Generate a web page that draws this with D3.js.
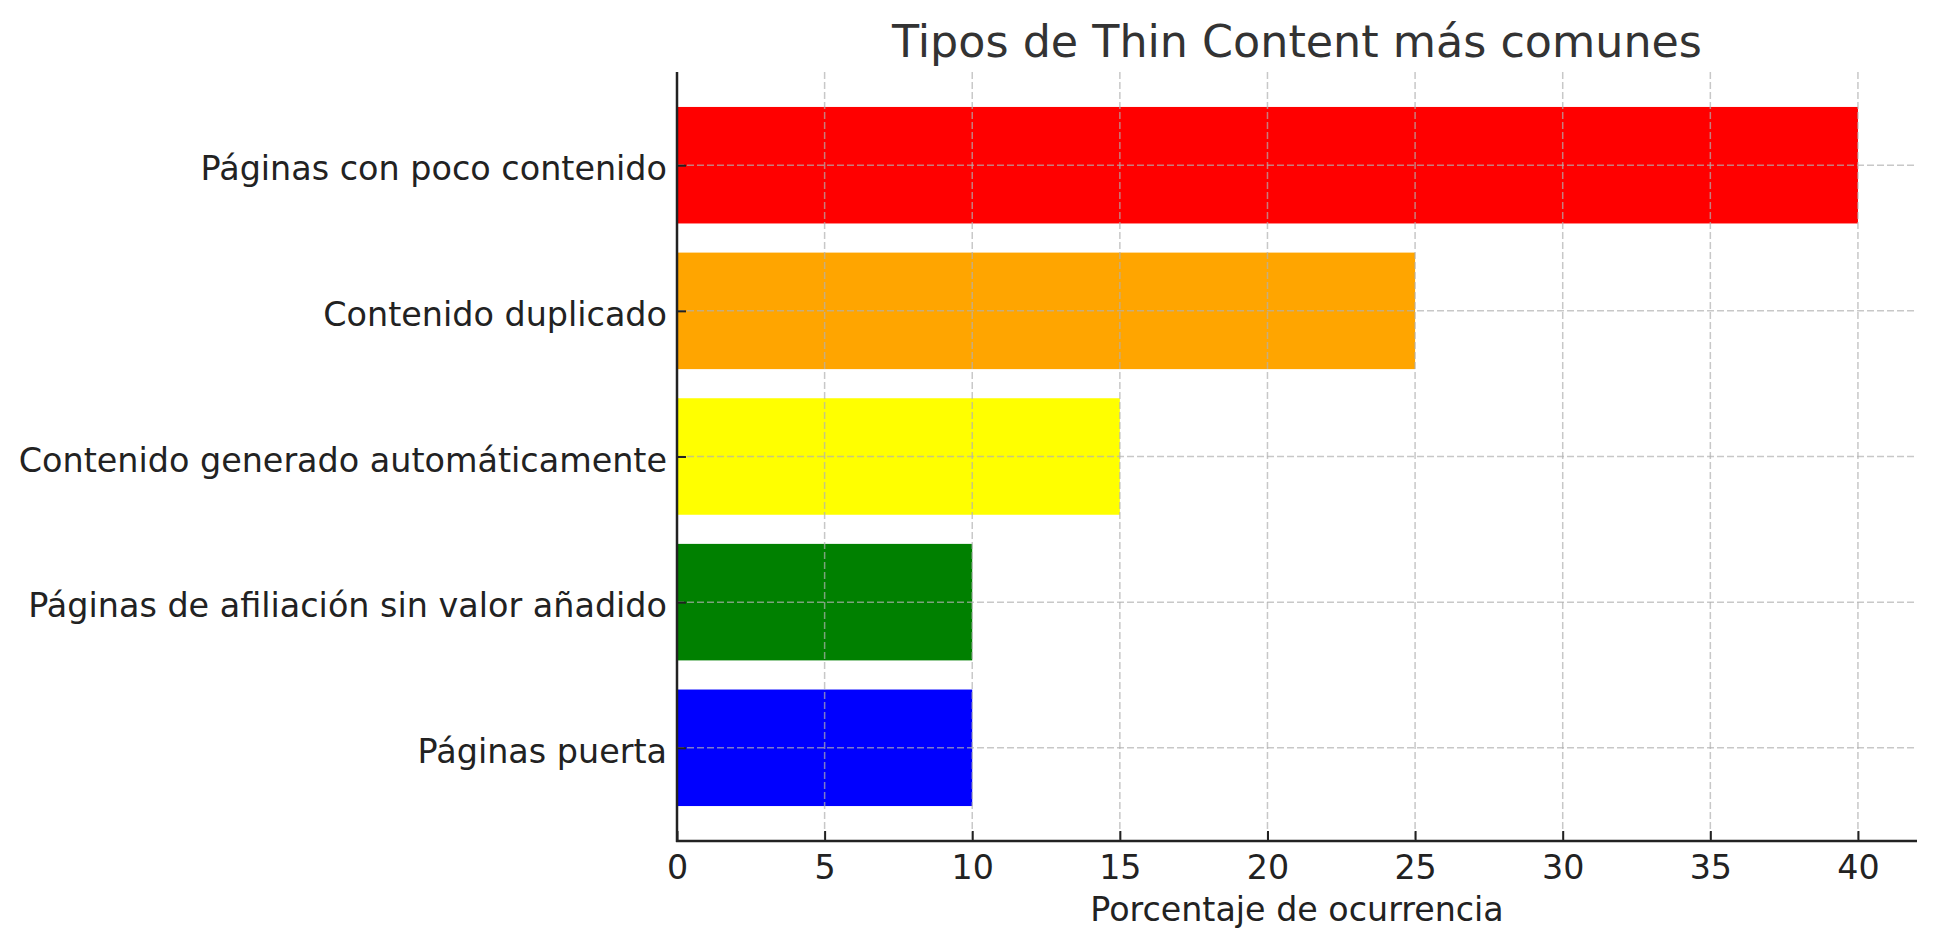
<!DOCTYPE html>
<html>
<head>
<meta charset="utf-8">
<script src="https://cdn.jsdelivr.net/npm/d3@7"></script>
<style>
  html, body { margin: 0; padding: 0; background: #fff; }
  svg { display: block; font-family: "DejaVu Sans", sans-serif; }
</style>
</head>
<body>
<svg id="chart" width="1937" height="949"></svg>
<script>
const categories = [
  "Páginas con poco contenido",
  "Contenido duplicado",
  "Contenido generado automáticamente",
  "Páginas de afiliación sin valor añadido",
  "Páginas puerta"
];
const values = [40, 25, 15, 10, 10];
const colors = ["red", "orange", "yellow", "green", "blue"];
const xTicks = [0, 5, 10, 15, 20, 25, 30, 35, 40];
const title = "Tipos de Thin Content más comunes";
const xLabel = "Porcentaje de ocurrencia";

(function () {
const svg = d3.select("#chart");
const mLeft = 677, mRight = 1917, mTop = 72, mBottom = 841;

const x = d3.scaleLinear().domain([0, 42]).range([mLeft, mRight]);
const y = d3.scaleLinear().domain([-0.64, categories.length - 1 + 0.64]).range([mTop, mBottom]);
const barH = y(0.4) - y(-0.4);

// bars
svg.append("g").selectAll("rect")
  .data(categories)
  .join("rect")
  .attr("x", x(0))
  .attr("y", (d, i) => y(i - 0.4))
  .attr("width", (d, i) => x(values[i]) - x(0))
  .attr("height", barH)
  .attr("fill", (d, i) => colors[i]);

// grid (drawn over bars)
const grid = svg.append("g").attr("stroke", "#b0b0b0").attr("stroke-opacity", 0.7)
  .attr("stroke-width", 1.5).attr("stroke-dasharray", "7,3");
grid.selectAll("line.v").data(xTicks).join("line").attr("class", "v")
  .attr("x1", d => x(d)).attr("x2", d => x(d)).attr("y1", mTop).attr("y2", mBottom);
grid.selectAll("line.h").data(categories).join("line").attr("class", "h")
  .attr("x1", mLeft).attr("x2", mRight).attr("y1", (d, i) => y(i)).attr("y2", (d, i) => y(i));

// x axis
const xAxis = d3.axisBottom(x).tickValues(xTicks).tickSizeInner(-10).tickSizeOuter(0).tickPadding(14);
const gx = svg.append("g").attr("transform", `translate(0,${mBottom})`).call(xAxis);
gx.select(".domain").remove();
gx.selectAll(".tick line").attr("stroke", "#222").attr("stroke-width", 2);
gx.selectAll(".tick text").attr("fill", "#222").attr("font-size", 33.3)
  .attr("font-family", "DejaVu Sans, sans-serif").attr("dy", "0.71em").attr("y", 14);

// y axis
const yAxis = d3.axisLeft(y).tickValues(d3.range(categories.length))
  .tickFormat(i => categories[i]).tickSizeInner(-9).tickSizeOuter(0).tickPadding(10);
const gy = svg.append("g").attr("transform", `translate(${mLeft},0)`).call(yAxis);
gy.select(".domain").remove();
gy.selectAll(".tick line").attr("stroke", "#222").attr("stroke-width", 2);
gy.selectAll(".tick text").attr("fill", "#222").attr("font-size", 33.4)
  .attr("font-family", "DejaVu Sans, sans-serif").attr("x", -10).attr("dy", "0.44em");

// spines
svg.append("line").attr("x1", mLeft).attr("x2", mLeft).attr("y1", mTop).attr("y2", mBottom + 1)
  .attr("stroke", "#222").attr("stroke-width", 2.5);
svg.append("line").attr("x1", mLeft - 1).attr("x2", mRight).attr("y1", mBottom).attr("y2", mBottom)
  .attr("stroke", "#222").attr("stroke-width", 2.5);

// title
svg.append("text").attr("x", (mLeft + mRight) / 2).attr("y", 57).attr("text-anchor", "middle")
  .attr("font-size", 44.4).attr("fill", "#333").text(title);

// x label
svg.append("text").attr("x", (mLeft + mRight) / 2).attr("y", 921).attr("text-anchor", "middle")
  .attr("font-size", 33.3).attr("fill", "#222").text(xLabel);
})();
</script>
</body>
</html>
